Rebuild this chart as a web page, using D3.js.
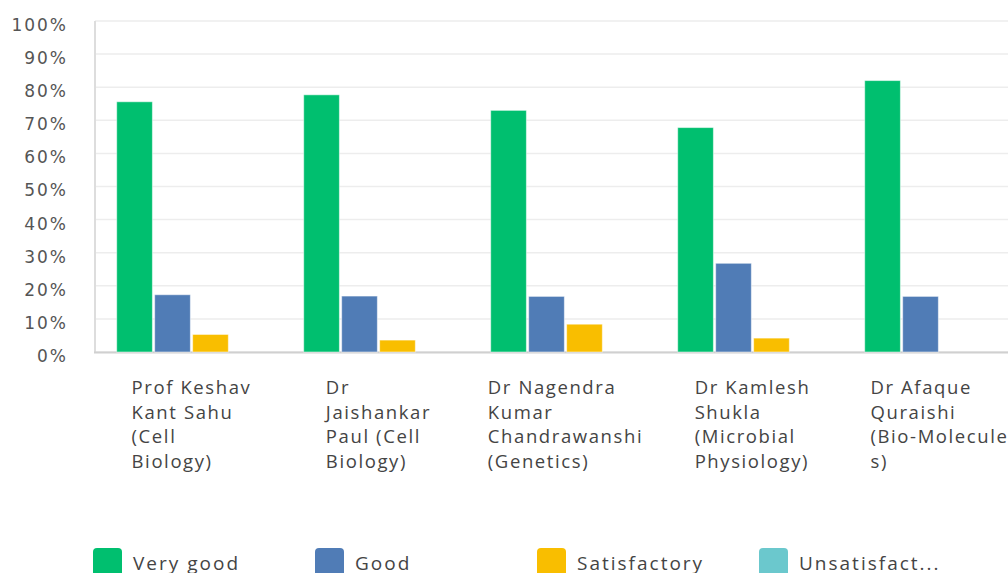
<!DOCTYPE html>
<html>
<head>
<meta charset="utf-8">
<script src="https://d3js.org/d3.v7.min.js"></script>
<style>
  body { margin: 0; background: #fff; }
  svg { display: block; }
</style>
</head>
<body>
<div id="chart"></div>
<script>
// teachers (label lines as wrapped in the chart)
const categories = [
  ["Prof Keshav", "Kant Sahu", "(Cell", "Biology)"],
  ["Dr", "Jaishankar", "Paul (Cell", "Biology)"],
  ["Dr Nagendra", "Kumar", "Chandrawanshi", "(Genetics)"],
  ["Dr Kamlesh", "Shukla", "(Microbial", "Physiology)"],
  ["Dr Afaque", "Quraishi", "(Bio-Molecule", "s)"]
];
const seriesNames = ["Very good", "Good", "Satisfactory", "Unsatisfact..."];
const veryGood = [75.6, 77.7, 73.0, 67.8, 82.0];
const good = [17.3, 16.9, 16.8, 26.8, 16.8];
const satisfactory = [5.3, 3.6, 8.4, 4.2, 0];
const unsatisfactory = [0, 0, 0, 0, 0];
const yTicks = [0, 10, 20, 30, 40, 50, 60, 70, 80, 90, 100];
const colors = ["#00bf6f", "#507cb6", "#f9be00", "#6bc8cd"];

const series = [veryGood, good, satisfactory, unsatisfactory];

const W = 1008, H = 573;
const svg = d3.select("#chart").append("svg")
  .attr("width", W).attr("height", H);

const x0 = d3.scaleBand()
  .domain(d3.range(categories.length))
  .range([98, 1033])
  .paddingInner(0.2)
  .paddingOuter(0.1);

const x1 = d3.scaleBand()
  .domain(d3.range(series.length))
  .range([0, x0.bandwidth()])
  .paddingInner(0.06);

const y = d3.scaleLinear().domain([0, 100]).range([352, 21]);

// grid
svg.append("g")
  .selectAll("line")
  .data(yTicks)
  .join("line")
  .attr("x1", 95).attr("x2", W)
  .attr("y1", d => y(d)).attr("y2", d => y(d))
  .attr("stroke", "#ededed")
  .attr("stroke-width", 1.5);

// y axis labels
const yAxis = svg.append("g")
  .attr("transform", "translate(68,0)")
  .call(d3.axisLeft(y).tickValues(yTicks).tickFormat(d => d + "%").tickSize(0).tickPadding(0));
yAxis.select(".domain").remove();
yAxis.selectAll("text")
  .attr("dy", "0.38em")
  .attr("transform", "translate(0,3)")
  .style("font-family", "'DejaVu Sans'")
  .style("font-size", "17px")
  .style("letter-spacing", "2px")
  .style("fill", "#555");

// axis lines
svg.append("line")
  .attr("x1", 95).attr("x2", 95).attr("y1", 21).attr("y2", 353)
  .attr("stroke", "#dddddd").attr("stroke-width", 2);
svg.append("line")
  .attr("x1", 94).attr("x2", W).attr("y1", 352.5).attr("y2", 352.5)
  .attr("stroke", "#d0d0d0").attr("stroke-width", 2);

// bars
const groups = svg.append("g")
  .selectAll("g")
  .data(categories.map((c, i) => i))
  .join("g")
  .attr("transform", i => `translate(${x0(i)},0)`);

groups.selectAll("rect")
  .data(i => series.map((s, k) => ({ k: k, v: s[i] })))
  .join("rect")
  .attr("x", d => x1(d.k))
  .attr("width", x1.bandwidth())
  .attr("y", d => y(d.v))
  .attr("height", d => y(0) - y(d.v))
  .attr("fill", d => colors[d.k])
  .attr("stroke", "rgba(255,255,255,0.5)")
  .attr("stroke-width", 1)
  .style("display", d => d.v > 0 ? null : "none");

// category labels: left aligned block, centred on the band
const labels = svg.append("g")
  .selectAll("text")
  .data(categories)
  .join("text")
  .style("font-family", "'Open Sans'")
  .style("font-size", "18.5px")
  .style("letter-spacing", "1.6px")
  .style("fill", "#444");

labels.each(function(lines, i) {
  const t = d3.select(this);
  lines.forEach((ln, j) => {
    t.append("tspan").attr("y", 394 + j * 24.5).text(ln);
  });
  let maxW = 0;
  t.selectAll("tspan").each(function() {
    maxW = Math.max(maxW, this.getComputedTextLength());
  });
  const cx = x0(i) + x0.bandwidth() / 2;
  t.selectAll("tspan").attr("x", cx - maxW / 2);
});

// legend
const legend = svg.append("g")
  .selectAll("g")
  .data(seriesNames)
  .join("g")
  .attr("transform", (d, i) => `translate(${93 + i * 222},548)`);

legend.append("rect")
  .attr("width", 29).attr("height", 32)
  .attr("rx", 4)
  .attr("fill", (d, i) => colors[i]);

legend.append("text")
  .attr("x", 40).attr("y", 22)
  .style("font-family", "'Open Sans'")
  .style("font-size", "19px")
  .style("letter-spacing", "2px")
  .style("fill", "#444")
  .text(d => d);
</script>
</body>
</html>
